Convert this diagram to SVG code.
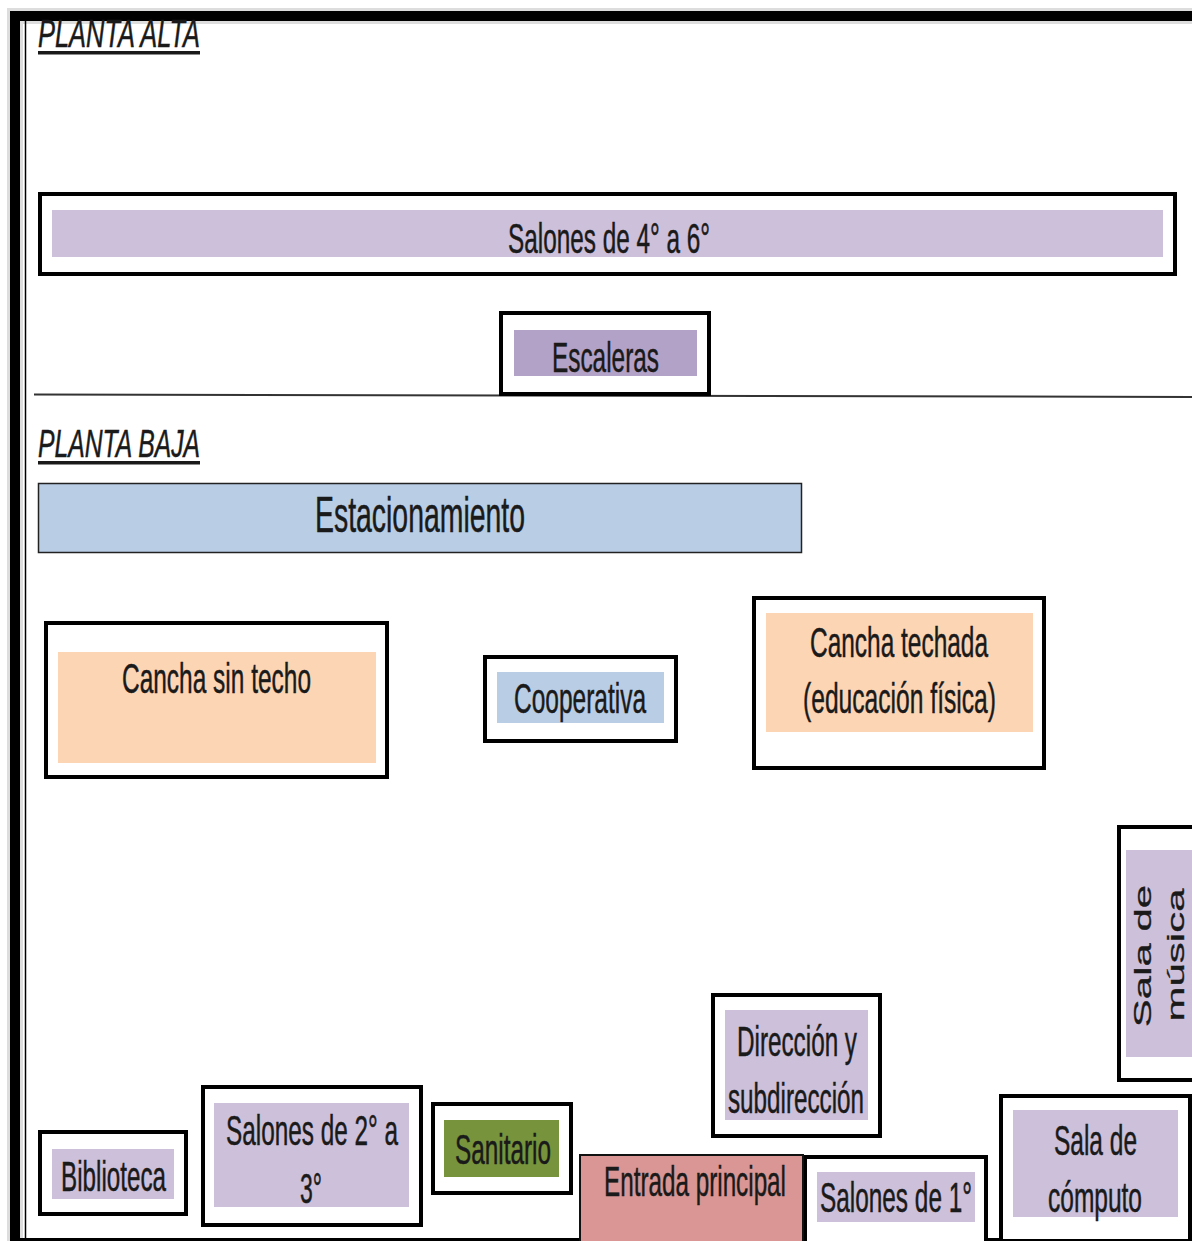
<svg xmlns="http://www.w3.org/2000/svg" width="1192" height="1241" viewBox="0 0 1192 1241">
<style>
.box{fill:#fff;stroke:#000;stroke-width:4}
.t{font-family:"Liberation Sans",Arial,sans-serif;font-size:42px;fill:#1a1a1a;stroke:#1a1a1a;stroke-width:0.5}
.big{font-size:50px}
.ttl{font-family:"Liberation Sans",Arial,sans-serif;font-size:38px;font-style:italic;fill:#1a1a1a;stroke:#1a1a1a;stroke-width:0.5}
.lav{fill:#ccc0da}
.esc{fill:#b3a2c7}
.blue{fill:#b9cde5}
.peach{fill:#fcd5b5}
.green{fill:#77933c}
.rose{fill:#d99694}
</style>
<rect x="0" y="0" width="1192" height="1241" fill="#fff"/>

<g id="frame">
  <path d="M15 1241 V16 H1192" fill="none" stroke="#bbb" stroke-width="16" opacity="0.5"/>
  <path d="M15 1241 V16 H1192" fill="none" stroke="#000" stroke-width="10"/>
  <line x1="25.5" y1="20" x2="25.5" y2="1241" stroke="#000" stroke-width="1.5"/>
  <line x1="20" y1="1239.5" x2="1192" y2="1239.5" stroke="#000" stroke-width="3"/>
</g>

<g id="titles">
  <text class="ttl" x="38" y="47" textLength="162" lengthAdjust="spacingAndGlyphs">PLANTA ALTA</text>
  <rect x="38" y="51" width="162" height="3.5" fill="#1a1a1a"/>
  <text class="ttl" x="38" y="457" textLength="162" lengthAdjust="spacingAndGlyphs">PLANTA BAJA</text>
  <rect x="38" y="461" width="162" height="3.5" fill="#1a1a1a"/>
</g>

<g id="connectors">
  <line x1="34" y1="394.5" x2="1192" y2="397" stroke="#333" stroke-width="2"/>
</g>

<g id="salones-4-6">
  <rect class="box" x="40" y="194" width="1135" height="80"/>
  <rect class="lav" x="52" y="210" width="1111" height="47"/>
  <text class="t" x="508" y="253" textLength="202" lengthAdjust="spacingAndGlyphs">Salones de 4° a 6°</text>
</g>

<g id="escaleras">
  <rect class="box" x="501" y="313" width="208" height="81"/>
  <rect class="esc" x="514" y="330" width="183" height="46"/>
  <text class="t" x="552" y="372" textLength="107" lengthAdjust="spacingAndGlyphs">Escaleras</text>
</g>

<g id="estacionamiento">
  <rect class="blue" x="38.5" y="483.5" width="763" height="69" stroke="#222" stroke-width="1.5"/>
  <text class="t big" x="315" y="532" textLength="210" lengthAdjust="spacingAndGlyphs">Estacionamiento</text>
</g>

<g id="cancha-sin-techo">
  <rect class="box" x="46" y="623" width="341" height="154"/>
  <rect class="peach" x="58" y="652" width="318" height="111"/>
  <text class="t" x="122" y="693" textLength="189" lengthAdjust="spacingAndGlyphs">Cancha sin techo</text>
</g>

<g id="cooperativa">
  <rect class="box" x="485" y="657" width="191" height="84"/>
  <rect class="blue" x="497" y="672" width="167" height="51"/>
  <text class="t" x="514" y="713" textLength="132" lengthAdjust="spacingAndGlyphs">Cooperativa</text>
</g>

<g id="cancha-techada">
  <rect class="box" x="754" y="598" width="290" height="170"/>
  <rect class="peach" x="766" y="613" width="267" height="119"/>
  <text class="t" x="810" y="657" textLength="178" lengthAdjust="spacingAndGlyphs">Cancha techada</text>
  <text class="t" x="803" y="713" textLength="193" lengthAdjust="spacingAndGlyphs">(educación física)</text>
</g>

<g id="sala-musica">
  <rect class="box" x="1119" y="827" width="80" height="253"/>
  <rect class="lav" x="1126" y="850" width="66" height="207"/>
  <text class="t" text-anchor="middle" transform="translate(1151,956) scale(0.57,1) rotate(-90)">Sala de</text>
  <text class="t" text-anchor="middle" transform="translate(1184,955) scale(0.57,1) rotate(-90)">música</text>
</g>

<g id="direccion">
  <rect class="box" x="713" y="995" width="167" height="141"/>
  <rect class="lav" x="725" y="1010" width="143" height="110"/>
  <text class="t" x="737" y="1056" textLength="120" lengthAdjust="spacingAndGlyphs">Dirección y</text>
  <text class="t" x="728" y="1113" textLength="136" lengthAdjust="spacingAndGlyphs">subdirección</text>
</g>

<g id="sala-computo">
  <rect class="box" x="1001" y="1096" width="189" height="145"/>
  <rect class="lav" x="1013" y="1110" width="165" height="107"/>
  <text class="t" x="1054" y="1155" textLength="83" lengthAdjust="spacingAndGlyphs">Sala de</text>
  <text class="t" x="1048" y="1212" textLength="94" lengthAdjust="spacingAndGlyphs">cómputo</text>
</g>

<g id="salones-1">
  <rect class="box" x="805" y="1157" width="181" height="86"/>
  <rect class="lav" x="817" y="1172" width="158" height="50"/>
  <text class="t" x="820" y="1212" textLength="152" lengthAdjust="spacingAndGlyphs">Salones de 1°</text>
</g>

<g id="entrada-principal">
  <rect class="rose" x="580" y="1155" width="223" height="88" stroke="#111" stroke-width="2"/>
  <text class="t" x="604" y="1196" textLength="182" lengthAdjust="spacingAndGlyphs">Entrada principal</text>
</g>

<g id="sanitario">
  <rect class="box" x="433" y="1104" width="138" height="89"/>
  <rect class="green" x="444" y="1120" width="115" height="57"/>
  <text class="t" x="455" y="1164" textLength="96" lengthAdjust="spacingAndGlyphs">Sanitario</text>
</g>

<g id="salones-2-3">
  <rect class="box" x="203" y="1087" width="218" height="138"/>
  <rect class="lav" x="214" y="1103" width="195" height="104"/>
  <text class="t" x="226" y="1145" textLength="172" lengthAdjust="spacingAndGlyphs">Salones de 2° a</text>
  <text class="t" x="300" y="1203" textLength="22" lengthAdjust="spacingAndGlyphs">3°</text>
</g>

<g id="biblioteca">
  <rect class="box" x="40" y="1132" width="146" height="82"/>
  <rect class="lav" x="52" y="1149" width="122" height="50"/>
  <text class="t" x="61" y="1191" textLength="105" lengthAdjust="spacingAndGlyphs">Biblioteca</text>
</g>
</svg>
